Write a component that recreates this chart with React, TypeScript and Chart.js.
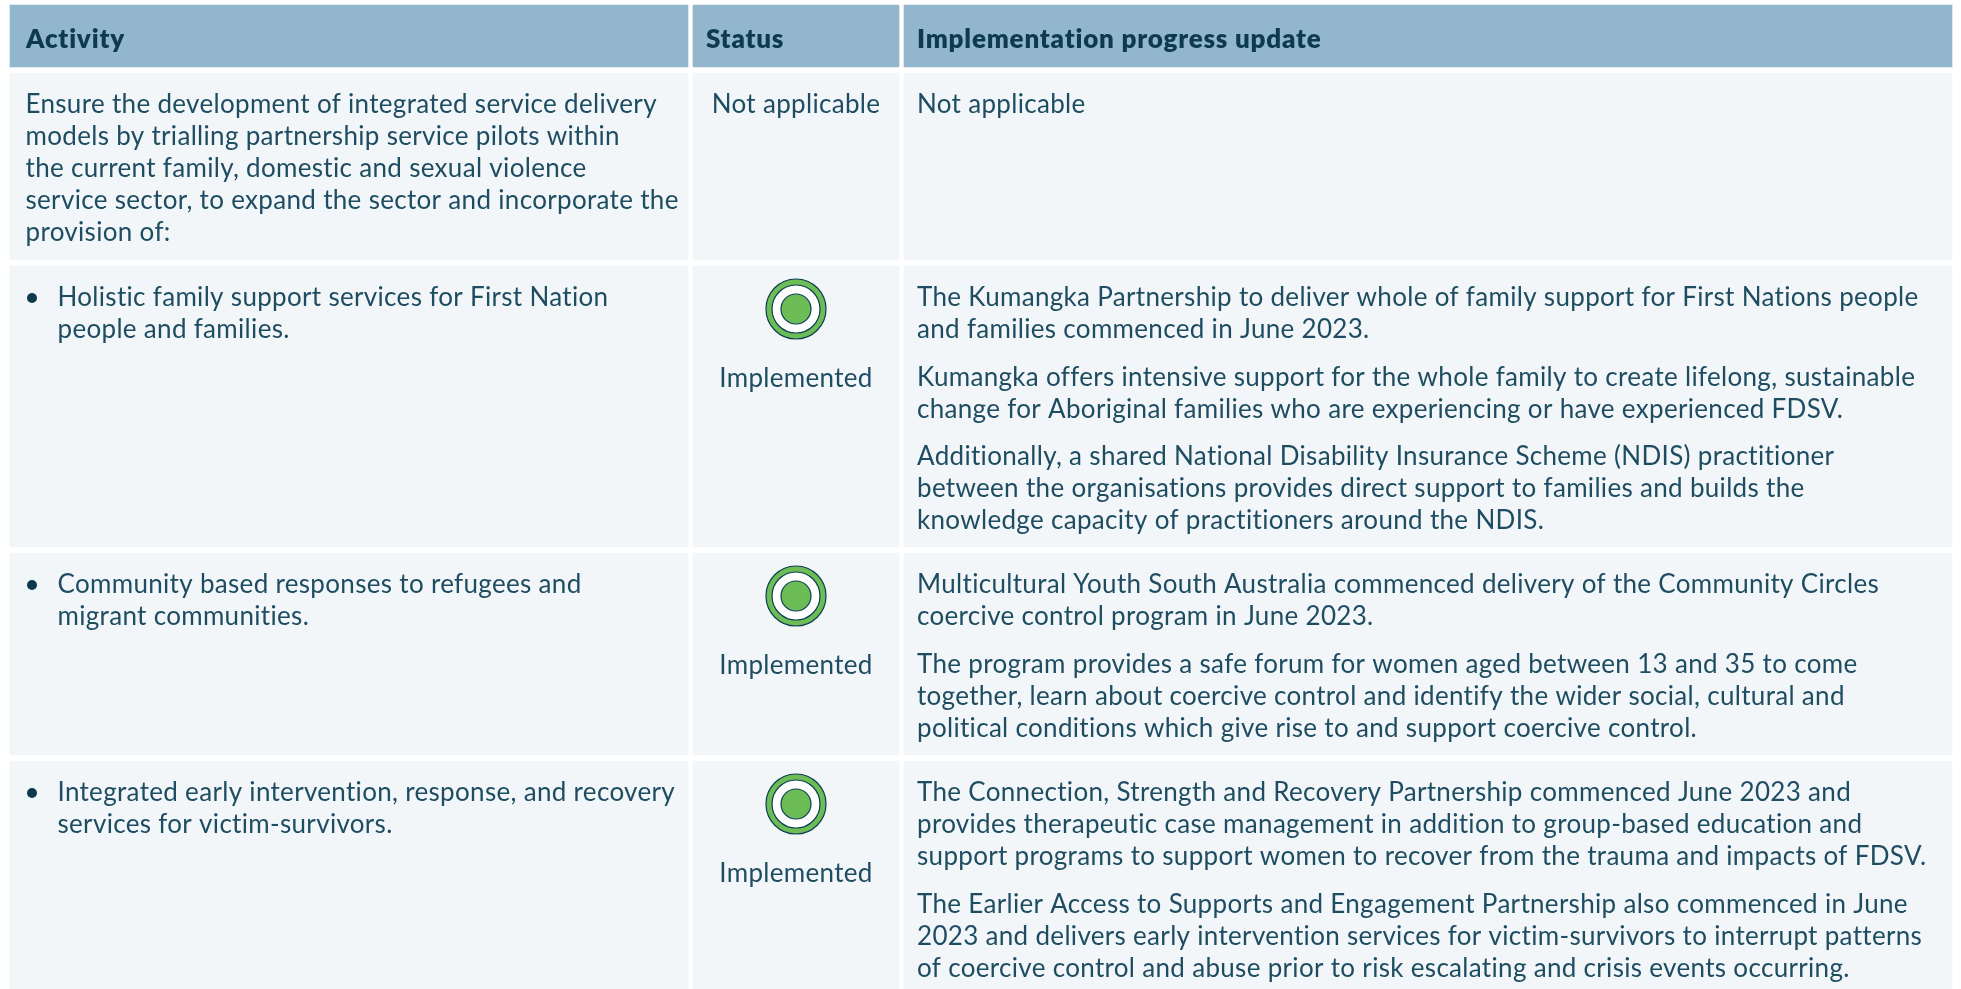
import React, { useEffect, useRef } from "react";
import { Chart, registerables } from "chart.js";

Chart.register(...registerables);

// ---- table data ----
const headers = ["Activity", "Status", "Implementation progress update"];
const colStarts = [10, 693, 904];
const colEnds = [688, 899, 1952];
const rowStarts = [5, 73, 266, 553, 761];
const rowEnds = [67, 260, 547, 755, 989];

const activityIntro = [
  "Ensure the development of integrated service delivery",
  "models by trialling partnership service pilots within",
  "the current family, domestic and sexual violence",
  "service sector, to expand the sector and incorporate the",
  "provision of:",
];
const activityBullets = [
  ["Holistic family support services for First Nation", "people and families."],
  ["Community based responses to refugees and", "migrant communities."],
  ["Integrated early intervention, response, and recovery", "services for victim-survivors."],
];
const statuses = ["Not applicable", "Implemented", "Implemented", "Implemented"];
const updates = [
  [["Not applicable"]],
  [
    [
      "The Kumangka Partnership to deliver whole of family support for First Nations people",
      "and families commenced in June 2023.",
    ],
    [
      "Kumangka offers intensive support for the whole family to create lifelong, sustainable",
      "change for Aboriginal families who are experiencing or have experienced FDSV.",
    ],
    [
      "Additionally, a shared National Disability Insurance Scheme (NDIS) practitioner",
      "between the organisations provides direct support to families and builds the",
      "knowledge capacity of practitioners around the NDIS.",
    ],
  ],
  [
    [
      "Multicultural Youth South Australia commenced delivery of the Community Circles",
      "coercive control program in June 2023.",
    ],
    [
      "The program provides a safe forum for women aged between 13 and 35 to come",
      "together, learn about coercive control and identify the wider social, cultural and",
      "political conditions which give rise to and support coercive control.",
    ],
  ],
  [
    [
      "The Connection, Strength and Recovery Partnership commenced June 2023 and",
      "provides therapeutic case management in addition to group-based education and",
      "support programs to support women to recover from the trauma and impacts of FDSV.",
    ],
    [
      "The Earlier Access to Supports and Engagement Partnership also commenced in June",
      "2023 and delivers early intervention services for victim-survivors to interrupt patterns",
      "of coercive control and abuse prior to risk escalating and crisis events occurring.",
    ],
  ],
];

// ---- styling ----
const WIDTH = 1961;
const HEIGHT = 989;
const HEADER_BG = "#92b6cc";
const CELL_BG = "#f2f6f9";
const TEXT = "#1e4d62";
const HEADER_TEXT = "#0e3a50";
const GREEN = "#6cbd55";
const DARK = "#0f3d56";
const BODY_FONT = '26px Lato, sans-serif';
const HEAD_FONT = '800 26px Lato, sans-serif';
const LINE = 32;
const PARA = 47.5;
const STATUS_X = 796;
const PAD = 16;

function cellBars() {
  return rowStarts.map((top, r) => ({
    type: "bar" as const,
    indexAxis: "y" as const,
    grouped: false,
    order: 10,
    barThickness: rowEnds[r] - top,
    backgroundColor: r === 0 ? HEADER_BG : CELL_BG,
    borderWidth: 0,
    data: colStarts.map((start, c) => ({ x: [start, colEnds[c]], y: (top + rowEnds[r]) / 2 })),
  }));
}

const iconPoints = rowStarts.slice(2).map((top) => ({ x: STATUS_X, y: top + 43 }));
const bulletPoints = rowStarts.slice(2).map((top) => ({ x: 32, y: top + 32 }));

function ring(radius: number, fill: string, order: number) {
  return {
    type: "scatter" as const,
    order,
    data: iconPoints,
    pointRadius: radius,
    pointBackgroundColor: fill,
    pointBorderColor: DARK,
    pointBorderWidth: 1.2,
    pointHoverRadius: radius,
  };
}

function fitSpacing(ctx: CanvasRenderingContext2D, font: string, sample: string, target: number) {
  ctx.save();
  ctx.font = font;
  (ctx as any).letterSpacing = "0px";
  const w = ctx.measureText(sample).width;
  ctx.restore();
  return (target - w) / sample.length;
}

const tableText = {
  id: "tableText",
  afterDatasetsDraw(chart: Chart) {
    const ctx = chart.ctx;
    const px = (v: number) => chart.scales.x.getPixelForValue(v);
    const py = (v: number) => chart.scales.y.getPixelForValue(v);
    const bodyLs = fitSpacing(ctx, BODY_FONT, updates[1][0][0], 1002);
    const headLs = fitSpacing(ctx, HEAD_FONT, headers[2], 405);
    ctx.save();
    ctx.textBaseline = "alphabetic";

    // header
    ctx.font = HEAD_FONT;
    (ctx as any).letterSpacing = headLs + "px";
    ctx.fillStyle = HEADER_TEXT;
    ctx.textAlign = "left";
    headers.forEach((h, c) => {
      ctx.fillText(h, px(colStarts[c] + (c === 2 ? 13 : c === 1 ? 13 : PAD)), py(rowStarts[0] + 43));
    });

    // body
    ctx.font = BODY_FONT;
    (ctx as any).letterSpacing = bodyLs + "px";
    ctx.fillStyle = TEXT;
    activityIntro.forEach((line, i) => {
      ctx.fillText(line, px(colStarts[0] + PAD - 0.5), py(rowStarts[1] + 40 + i * LINE));
    });
    activityBullets.forEach((lines, r) => {
      lines.forEach((line, i) => {
        ctx.fillText(line, px(57.5), py(rowStarts[r + 2] + 40 + i * LINE));
      });
    });
    updates.forEach((paras, r) => {
      let y = rowStarts[r + 1] + 40;
      paras.forEach((lines) => {
        lines.forEach((line, i) => {
          ctx.fillText(line, px(colStarts[2] + 13), py(y + i * LINE));
        });
        y += (lines.length - 1) * LINE + PARA;
      });
    });
    ctx.textAlign = "center";
    statuses.forEach((s, r) => {
      const y = r === 0 ? rowStarts[1] + 40 : rowStarts[r + 1] + 121;
      ctx.fillText(s, px(STATUS_X), py(y));
    });
    ctx.restore();
  },
};

export default function App() {
  const ref = useRef<HTMLCanvasElement | null>(null);
  useEffect(() => {
    if (!ref.current) return;
    const chart = new Chart(ref.current, {
      type: "bar",
      data: {
        datasets: [
          ...cellBars(),
          ring(30, GREEN, 4),
          ring(24, "#ffffff", 3),
          ring(15, GREEN, 2),
          {
            type: "scatter" as const,
            order: 1,
            data: bulletPoints,
            pointRadius: 5,
            pointBackgroundColor: HEADER_TEXT,
            pointBorderWidth: 0,
          },
        ] as any,
      },
      options: {
        animation: false,
        responsive: false,
        devicePixelRatio: 1,
        layout: { padding: 0, autoPadding: false },
        events: [],
        plugins: { legend: { display: false }, tooltip: { enabled: false }, title: { display: false } },
        scales: {
          x: { type: "linear", min: 0, max: WIDTH, display: false, offset: false },
          y: { type: "linear", min: 0, max: HEIGHT, reverse: true, display: false, offset: false },
        },
      },
      plugins: [tableText],
    });
    return () => chart.destroy();
  }, []);
  return (
    <canvas
      ref={ref}
      width={WIDTH}
      height={HEIGHT}
      style={{ position: "fixed", top: 0, left: 0, width: WIDTH, height: HEIGHT, display: "block" }}
    />
  );
}
